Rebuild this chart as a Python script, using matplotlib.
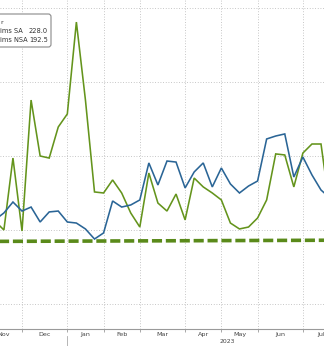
import matplotlib
matplotlib.use("Agg")
import matplotlib.pyplot as plt
import numpy as np
from matplotlib.patches import FancyBboxPatch
from matplotlib.lines import Line2D

# weekly observations (index 0 = first week of Dec 2022)
week_idx = list(range(-3, 35))
claims_nsa = [206.1, 200.0, 248.6, 199.3, 287.8, 250.0, 248.6, 269.6, 278.4, 340.5,
              287.8, 225.7, 225.0, 233.8, 225.0, 211.5, 202.0, 238.5, 218.2, 212.8,
              224.3, 206.8, 235.1, 229.1, 225.0, 220.3, 204.7, 200.7, 202.0, 208.1,
              220.3, 251.4, 250.7, 229.1, 252.0, 258.1, 258.1, 213.5]
claims_sa = [206.8, 211.5, 218.9, 212.8, 215.5, 205.4, 212.2, 212.8, 205.4, 204.7,
             200.7, 193.9, 198.0, 219.6, 215.5, 216.9, 220.3, 245.3, 230.4, 246.6,
             245.9, 228.4, 239.2, 245.3, 229.1, 241.9, 231.1, 225.0, 229.7, 233.1,
             261.5, 263.5, 264.9, 235.8, 249.3, 237.2, 227.0, 221.6]
ref_x = [-3, 35]
ref_level = [192.3, 193.1]

month_starts = [-4, 0, 5, 9, 13, 18, 22, 26, 31, 35]
month_labels = ["Nov", "Dec", "Jan", "Feb", "Mar", "Apr", "May", "Jun", "Jul"]
year_label = "2023"
year_start = 5
y_grid = [150, 200, 250, 300, 350]
legend_names = ["ims SA", "ims NSA"]
legend_vals = ["228.0", "192.5"]

W, H = 324, 346
fig = plt.figure(figsize=(W / 100, H / 100), dpi=100)
ax = fig.add_axes([0, (H - 329) / H, 1, 329 / H])
ax.set_xlim(-2.43, 33.33)
ax.set_ylim(133.1, 355.4)

grid_kw = dict(color="#b4b4b4", lw=0.6, ls=(0, (1, 2.2)), zorder=1)
for v in y_grid:
    ax.axhline(v, **grid_kw)
for m in month_starts[1:-1]:
    ax.axvline(m, **grid_kw)

green = "#64941c"
blue = "#2a6596"
ax.plot(week_idx, claims_nsa, color=green, lw=1.15, zorder=3, solid_joinstyle="miter")
ax.plot(week_idx, claims_sa, color=blue, lw=1.15, zorder=3, solid_joinstyle="miter")
ax.plot(ref_x, ref_level, color="#5a8a1a", lw=2.6, ls=(0, (2.8, 1.05)), zorder=2,
        solid_capstyle="butt", dash_capstyle="butt")

for s in ["top", "right", "left"]:
    ax.spines[s].set_visible(False)
ax.spines["bottom"].set_color("#9a9a9a")
ax.spines["bottom"].set_linewidth(0.8)
ax.set_yticks([])
ax.set_xticks(month_starts[1:-1])
ax.set_xticklabels([])
ax.tick_params(axis="x", length=2, width=0.6, color="#9a9a9a")

mids = [(month_starts[i] + month_starts[i + 1]) / 2 for i in range(len(month_labels))]
for x, lab in zip(mids, month_labels):
    fig_y = 1 - 334.5 / H
    ax.text(x, fig_y, lab, transform=ax.get_xaxis_transform() if False else
            matplotlib.transforms.blended_transform_factory(ax.transData, fig.transFigure),
            ha="center", va="center", fontsize=4.6, color="#444444", clip_on=False)
ax.text(22.7, 1 - 341.3 / H, year_label,
        transform=matplotlib.transforms.blended_transform_factory(ax.transData, fig.transFigure),
        ha="center", va="center", fontsize=4.4, color="#444444", clip_on=False)
fig.add_artist(Line2D([(22 + 9.06 * year_start) / W] * 2, [0, 10 / H], color="#aaaaaa", lw=0.6))

# legend box (partially cropped)
box = FancyBboxPatch((-8 / W, 1 - 47 / H), 59 / W, 33 / H,
                     boxstyle="round,pad=0,rounding_size=0.008",
                     transform=fig.transFigure, fc="white", ec="#8a8a8a", lw=0.8, zorder=10)
fig.add_artist(box)
fig.text(0.5 / W, 1 - 23 / H, "r", fontsize=4.6, color="#333333", va="center", ha="left", zorder=11)
for k, (n, v) in enumerate(zip(legend_names, legend_vals)):
    yy = 1 - (31 + 8.5 * k) / H
    fig.text(0.5 / W, yy, n, fontsize=4.8, color="#333333", va="center", ha="left", zorder=11)
    fig.text(48 / W, yy, v, fontsize=4.8, color="#333333", va="center", ha="right", zorder=11)

fig.savefig("out.png", dpi=100)
